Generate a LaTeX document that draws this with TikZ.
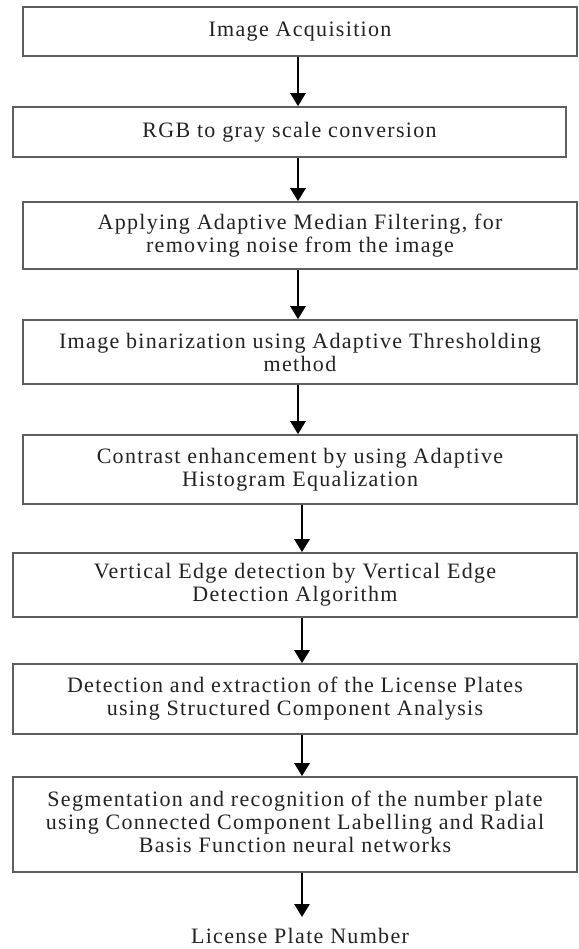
\documentclass[tikz,border=0pt]{standalone}
\usepackage{fontspec}
\setmainfont{Liberation Serif}[LetterSpace=6]
\usetikzlibrary{arrows.meta}
\definecolor{txt}{HTML}{222222}
\definecolor{boxline}{HTML}{5E5E5E}
\begin{document}
\begin{tikzpicture}[x=1pt,y=-1pt,
  stepbox/.style={draw=boxline,line width=1.6pt,rectangle,inner sep=0pt,align=center,
    text=txt,font=\fontsize{22}{23}\selectfont},
  arr/.style={line width=2.6pt,-{Triangle[width=15pt,length=13pt]}}]
\useasboundingbox (0,0) rectangle (578,949);
\node[stepbox,minimum width=554pt,minimum height=49pt] (b1) at (300,31.5) {Image Acquisition};
\node[stepbox,minimum width=553pt,minimum height=50pt] (b2) at (289.5,132) {RGB to gray scale conversion};
\node[stepbox,minimum width=554pt,minimum height=67pt] (b3) at (300,235.5) {Applying Adaptive Median Filtering, for\\removing noise from the image};
\node[stepbox,minimum width=554pt,minimum height=64pt] (b4) at (300,352) {Image binarization using Adaptive Thresholding\\method};
\node[stepbox,minimum width=554pt,minimum height=69pt] (b5) at (300,469.5) {Contrast enhancement by using Adaptive\\Histogram Equalization};
\node[stepbox,minimum width=564pt,minimum height=64pt] (b6) at (295,585) {Vertical Edge detection by Vertical Edge\\Detection Algorithm};
\node[stepbox,minimum width=564pt,minimum height=70pt] (b7) at (295,699) {Detection and extraction of the License Plates\\using Structured Component Analysis};
\node[stepbox,minimum width=564pt,minimum height=95pt] (b8) at (295,824.5) {\raisebox{3pt}{\begin{tabular}{@{}c@{}}Segmentation and recognition of the number plate\\using Connected Component Labelling and Radial\\Basis Function neural networks\end{tabular}}};
\node[text=txt,font=\fontsize{22}{23}\selectfont,anchor=base,inner sep=0pt] (out) at (300,943) {License Plate Number};
\coordinate (ax) at (298,0);
\coordinate (bx) at (302,0);
\coordinate (tip) at (302,917);
\draw[arr] (b1.south -| ax) -- (b2.north -| ax);
\draw[arr] (b2.south -| ax) -- (b3.north -| ax);
\draw[arr] (b3.south -| ax) -- (b4.north -| ax);
\draw[arr] (b4.south -| ax) -- (b5.north -| ax);
\draw[arr] (b5.south -| bx) -- (b6.north -| bx);
\draw[arr] (b6.south -| bx) -- (b7.north -| bx);
\draw[arr] (b7.south -| bx) -- (b8.north -| bx);
\draw[arr] (b8.south -| bx) -- (tip);
\end{tikzpicture}
\end{document}
